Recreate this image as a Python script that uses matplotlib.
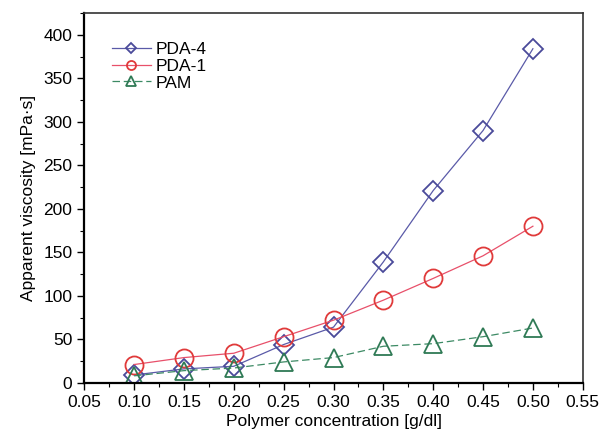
import matplotlib
matplotlib.use("Agg")
from matplotlib import pyplot as plt
from matplotlib.ticker import MultipleLocator

plt.rcParams['font.family'] = ['Liberation Sans', 'DejaVu Sans']

conc = [0.10, 0.15, 0.20, 0.25, 0.30, 0.35, 0.40, 0.45, 0.50]
pda4 = [9, 16, 19, 44, 64, 139, 221, 290, 384]
pda1 = [21, 29, 34, 53, 72, 95, 120, 146, 180]
pam = [8, 14, 17, 24, 29, 42, 45, 53, 63]

fig = plt.figure(figsize=(6.02, 4.36), dpi=100)
ax = fig.add_axes([0.14, 0.122, 0.828, 0.848])

ax.plot(conc, pda4, color="#5a5aa8", lw=0.9, marker="D", ms=10.5, mfc="none",
        mec="#4a4a9a", mew=1.3, label="PDA-4")
ax.plot(conc, pda1, color="#e8506a", lw=0.9, marker="o", ms=13, mfc="none",
        mec="#e03a3a", mew=1.3, label="PDA-1")
ax.plot(conc, pam, color="#3c8a64", lw=0.9, ls=(0, (6, 3)), marker="^", ms=13,
        mfc="none", mec="#2f7a55", mew=1.3, label="PAM")

ax.set_xlim(0.05, 0.55)
ax.set_ylim(0, 425)
ax.xaxis.set_major_locator(MultipleLocator(0.05))
ax.xaxis.set_minor_locator(MultipleLocator(0.025))
ax.yaxis.set_major_locator(MultipleLocator(50))
ax.yaxis.set_minor_locator(MultipleLocator(25))
ax.xaxis.set_major_formatter(plt.FuncFormatter(lambda v, p: "%.2f" % v))
ax.tick_params(which="major", direction="out", length=5, width=1, labelsize=12.5)
ax.tick_params(which="minor", direction="out", length=3, width=0.8)
ax.tick_params(top=False, right=False, which="both")

for s in ["left", "bottom"]:
    ax.spines[s].set_linewidth(1.6)
for s in ["top", "right"]:
    ax.spines[s].set_linewidth(1.2)
    ax.spines[s].set_color("#333333")

ax.set_xlabel("Polymer concentration [g/dl]", fontsize=12.5, labelpad=3)
ax.set_ylabel("Apparent viscosity [mPa·s]", fontsize=12.5, labelpad=5)

ax.legend(loc="upper left", bbox_to_anchor=(0.025, 0.965), frameon=False,
          fontsize=12.5, markerscale=0.5, handlelength=2.2,
          handletextpad=0.3, labelspacing=0.1)

fig.savefig("out.png", dpi=100)
